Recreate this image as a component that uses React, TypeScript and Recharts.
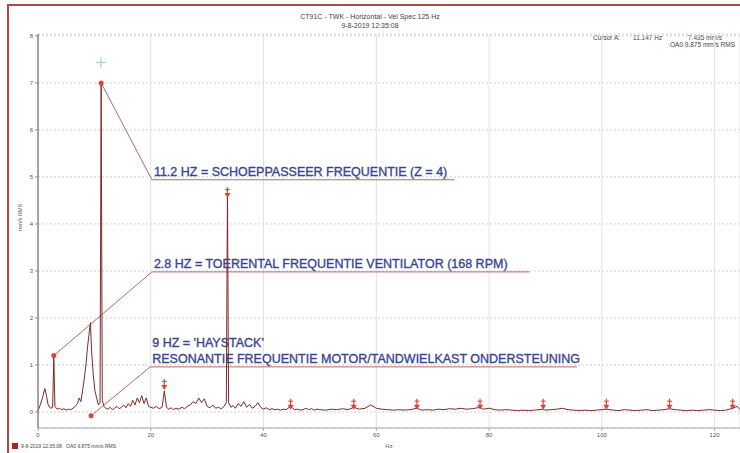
import React from 'react'
import {
  ComposedChart, Line, Scatter, XAxis, YAxis, CartesianGrid, ReferenceLine,
} from 'recharts'

// spectrum: [Hz, mm/s RMS]
const spectrum: [number, number][] = [
  [0, 0.02], [0.4, 0.15], [0.8, 0.3], [1.2, 0.5], [1.5, 0.35], [1.8, 0.15], [2.2, 0.08], [2.6, 0.1],
  [2.8, 1.2], [3.0, 0.12], [3.4, 0.06], [3.8, 0.08], [4.2, 0.05], [4.6, 0.07], [5.0, 0.04], [5.4, 0.06],
  [5.8, 0.05], [6.2, 0.08], [6.6, 0.12], [7.0, 0.18], [7.3, 0.3], [7.6, 0.22], [7.9, 0.45], [8.2, 0.7],
  [8.5, 1.0], [8.8, 1.4], [9.1, 1.7], [9.3, 1.9], [9.5, 1.3], [9.8, 0.8], [10.1, 0.45], [10.4, 0.3],
  [10.7, 0.15], [11.0, 0.2], [11.2, 7.0], [11.4, 0.25], [11.7, 0.12], [12.0, 0.08], [12.4, 0.06],
  [12.8, 0.1], [13.2, 0.05], [13.6, 0.08], [14.0, 0.12], [14.4, 0.07], [14.8, 0.1], [15.2, 0.15],
  [15.6, 0.09], [16.0, 0.18], [16.4, 0.12], [16.8, 0.25], [17.2, 0.15], [17.6, 0.3], [18.0, 0.2],
  [18.4, 0.35], [18.8, 0.18], [19.2, 0.3], [19.6, 0.12], [20.0, 0.1], [20.5, 0.08], [21.0, 0.12],
  [21.5, 0.07], [22.0, 0.1], [22.4, 0.45], [22.8, 0.1], [23.2, 0.06], [23.6, 0.09], [24.0, 0.05],
  [24.5, 0.08], [25.0, 0.06], [25.5, 0.1], [26.0, 0.07], [26.5, 0.12], [27.0, 0.15], [27.5, 0.22],
  [28.0, 0.18], [28.5, 0.3], [29.0, 0.2], [29.5, 0.28], [30.0, 0.12], [30.5, 0.09], [31.0, 0.15],
  [31.5, 0.08], [32.0, 0.1], [32.5, 0.07], [33.0, 0.12], [33.4, 0.2], [33.6, 4.7], [33.8, 0.2],
  [34.2, 0.1], [34.6, 0.14], [35.0, 0.08], [35.5, 0.18], [36.0, 0.12], [36.5, 0.22], [37.0, 0.1],
  [37.5, 0.16], [38.0, 0.08], [38.5, 0.12], [39.0, 0.2], [39.5, 0.1], [40.0, 0.06], [40.5, 0.09],
  [41, 0.05], [41.5, 0.07], [42, 0.05], [42.5, 0.06], [43, 0.04], [43.5, 0.06], [44, 0.05],
  [44.8, 0.12], [45.5, 0.05], [46, 0.06], [46.5, 0.04], [47, 0.05], [47.5, 0.08], [48, 0.05],
  [48.5, 0.07], [49, 0.04], [49.5, 0.06], [50, 0.05], [51, 0.04], [52, 0.06], [53, 0.05], [54, 0.07],
  [55, 0.05], [56, 0.1], [57, 0.06], [58, 0.08], [59, 0.15], [60, 0.08], [61, 0.06], [62, 0.05],
  [63, 0.04], [64, 0.05], [65, 0.04], [66, 0.05], [67.2, 0.08], [68, 0.04], [69, 0.05], [70, 0.04],
  [71, 0.06], [72, 0.05], [73, 0.07], [74, 0.06], [75, 0.08], [76, 0.06], [77, 0.07], [78.4, 0.1],
  [79, 0.06], [80, 0.08], [81, 0.05], [82, 0.04], [83, 0.05], [84, 0.04], [85, 0.03], [86, 0.04],
  [87, 0.03], [88, 0.04], [89.6, 0.06], [90, 0.04], [91, 0.05], [92, 0.06], [93, 0.08], [94, 0.05],
  [95, 0.04], [96, 0.03], [97, 0.04], [98, 0.03], [99, 0.04], [100.8, 0.06], [102, 0.04], [103, 0.03],
  [104, 0.05], [105, 0.04], [106, 0.03], [107, 0.04], [108, 0.05], [109, 0.03], [110, 0.04],
  [111, 0.05], [112, 0.07], [113, 0.05], [114, 0.04], [115, 0.03], [116, 0.04], [117, 0.03],
  [118, 0.04], [119, 0.05], [120, 0.04], [121, 0.03], [122, 0.04], [123.2, 0.08], [124, 0.12], [124.5, 0.05],
]

// peak markers (red dots)
const peakHz = [2.8, 11.2, 9.4]
const peakVal = [1.2, 7.0, -0.08]

// harmonic markers (red arrows) of 11.2 Hz
const arrowHz = [22.4, 33.6, 44.8, 56, 67.2, 78.4, 89.6, 100.8, 112, 123.2]
const arrowVal = [0.47, 4.55, 0.05, 0.05, 0.05, 0.05, 0.05, 0.05, 0.05, 0.05]

// cursor A
const cursorHz = 11.147
const cursorVal = 7.435

const xTicks = [0, 20, 40, 60, 80, 100, 120]
const yTicks = [0, 1, 2, 3, 4, 5, 6, 7, 8]

// callouts: from marker -> knee -> end of underline
const callouts = [
  { from: [11.2, 7.0], knee: [20.2, 4.94], endHz: 73.9, lines: ['11.2 HZ = SCHOEPPASSEER FREQUENTIE (Z = 4)'] },
  { from: [2.8, 1.2], knee: [20.2, 2.98], endHz: 87.2, lines: ['2.8 HZ = TOERENTAL FREQUENTIE VENTILATOR (168 RPM)'] },
  { from: [9.4, -0.08], knee: [19.9, 0.96], endHz: 95.6, lines: ["9 HZ = 'HAYSTACK'", 'RESONANTIE FREQUENTIE MOTOR/TANDWIELKAST ONDERSTEUNING'] },
]

const FONT = '"Liberation Sans", Arial, sans-serif'
const CALLOUT = '#b66a60'
const MARK = '#dc4438'
const NAVY = '#3a4590'

const data = spectrum.map(([hz, v]) => ({ hz, v }))
const dots = peakHz.map((hz, i) => ({ hz, v: peakVal[i] }))
const arrows = arrowHz.map((hz, i) => ({ hz, v: arrowVal[i] }))

const Dot = (p: any) => <circle cx={p.cx} cy={p.cy} r={2.5} fill={MARK} />

const Arrow = (p: any) => {
  const { cx, cy } = p
  return (
    <g>
      <line x1={cx} y1={cy - 11} x2={cx} y2={cy - 4} stroke={MARK} strokeWidth={1.2} />
      <line x1={cx - 2.5} y1={cy - 8.5} x2={cx + 2.5} y2={cy - 8.5} stroke={MARK} strokeWidth={1} />
      <path d={`M${cx - 3},${cy - 5} L${cx + 3},${cy - 5} L${cx},${cy} Z`} fill={MARK} />
    </g>
  )
}

const Cross = (p: any) => {
  const { cx, cy } = p
  return (
    <g stroke="#9fd3e6" strokeWidth={1.3}>
      <line x1={cx - 5} y1={cy} x2={cx + 5} y2={cy} />
      <line x1={cx} y1={cy - 5} x2={cx} y2={cy + 5} />
    </g>
  )
}

const calloutLabel = (lines: string[]) => (p: any) => {
  const vb = p.viewBox || {}
  const n = lines.length
  return (
    <g>
      {lines.map((t, i) => (
        <text key={i} x={(vb.x ?? 0) + 2} y={(vb.y ?? 0) - 3.5 - (n - 1 - i) * 16}
          fill={NAVY} stroke={NAVY} strokeWidth={0.35} fontSize={12.5} fontFamily={FONT}>
          {t}
        </text>
      ))}
    </g>
  )
}

const small = { position: 'absolute' as const, fontSize: 6.5, color: '#444', whiteSpace: 'nowrap' as const, lineHeight: 1 }

export default function App() {
  return (
    <div style={{ position: 'fixed', left: 0, top: 0, width: 740, height: 453, overflow: 'hidden', background: '#fff', fontFamily: FONT }}>
      <div style={{ position: 'absolute', left: 7, top: 4, width: 740, height: 2, background: '#b04848' }} />
      <div style={{ position: 'absolute', left: 7, top: 4, width: 2, height: 460, background: '#b04848' }} />

      <div style={{ ...small, left: 0, width: 740, top: 13, textAlign: 'center', fontSize: 7 }}>CT91C - TWK - Horizontal - Vel Spec 125 Hz</div>
      <div style={{ ...small, left: 0, width: 740, top: 22, textAlign: 'center', fontSize: 7 }}>9-8-2019 12:35:08</div>

      <div style={{ ...small, left: 593, top: 35 }}>Cursor A:</div>
      <div style={{ ...small, left: 633, top: 35 }}>11.147 Hz</div>
      <div style={{ ...small, left: 688, top: 35 }}>7.435 mm/s</div>
      <div style={{ ...small, left: 670, top: 42 }}>OA0 9.875 mm/s RMS</div>

      <ComposedChart width={740} height={453} data={data} margin={{ top: 34, right: 0, bottom: 0, left: 0 }}>
        <CartesianGrid vertical={false} stroke="#cfcfcf" strokeDasharray="2 2" />
        <CartesianGrid horizontal={false} stroke="#e2e2e2" />
        <XAxis dataKey="hz" type="number" domain={[0, 124.5]} ticks={xTicks} height={25}
          axisLine={{ stroke: '#a8a8a8' }} tickLine={{ stroke: '#a8a8a8' }} tickSize={3}
          tick={{ fontSize: 6, fill: '#555', fontFamily: FONT }}
          label={{ value: 'Hz', position: 'insideBottom', offset: 5, fontSize: 6, fill: '#555' }} />
        <YAxis type="number" domain={[-0.34, 8.04]} ticks={yTicks} width={38} allowDataOverflow
          axisLine={{ stroke: '#8a8a8a', strokeWidth: 1.5 }} tickLine={{ stroke: '#8a8a8a' }} tickSize={3}
          tick={{ fontSize: 6, fill: '#555', fontFamily: FONT }}
          label={{ value: 'mm/s RMS', angle: -90, position: 'insideLeft', offset: 20, fontSize: 5.5, fill: '#555' }} />

        {callouts.map((c, i) => (
          <ReferenceLine key={`d${i}`} segment={[{ x: c.from[0], y: c.from[1] }, { x: c.knee[0], y: c.knee[1] }]}
            stroke={CALLOUT} strokeWidth={1} ifOverflow="visible" />
        ))}
        {callouts.map((c, i) => (
          <ReferenceLine key={`h${i}`} segment={[{ x: c.knee[0], y: c.knee[1] }, { x: c.endHz, y: c.knee[1] }]}
            stroke={CALLOUT} strokeWidth={1} ifOverflow="visible" label={calloutLabel(c.lines)} />
        ))}

        <Line dataKey="v" type="linear" stroke="#7a2a2a" strokeWidth={1} dot={false} activeDot={false} isAnimationActive={false} />
        <Scatter data={arrows} dataKey="v" shape={Arrow} isAnimationActive={false} />
        <Scatter data={dots} dataKey="v" shape={Dot} isAnimationActive={false} />
        <Scatter data={[{ hz: cursorHz, v: cursorVal }]} dataKey="v" shape={Cross} isAnimationActive={false} />
      </ComposedChart>

      <div style={{ position: 'absolute', left: 12, top: 443, width: 6, height: 6, background: '#b02020' }} />
      <div style={{ ...small, left: 21, top: 444, fontSize: 5 }}>9-8-2019 12:35:08</div>
      <div style={{ ...small, left: 66, top: 444, fontSize: 5 }}>OA0 9.875 mm/s RMS</div>
    </div>
  )
}
